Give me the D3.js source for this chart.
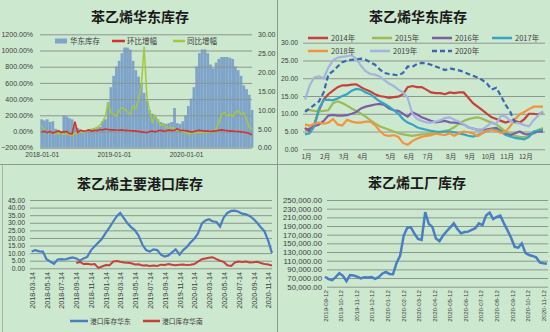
<!DOCTYPE html>
<html><head><meta charset="utf-8">
<script src="https://cdn.jsdelivr.net/npm/d3@7"></script>
<style>
html,body{margin:0;padding:0;background:#cce8cf;}
svg{display:block;}
</style></head><body>
<svg id="c" width="550" height="332"></svg>
<script>
// ---------------- DATA ----------------
// Panel 1: 苯乙烯华东库存 (biweekly from start date)
const p1Start = "2017-12-25";
const p1Stock = [7.5,7.2,7.5,6.8,7,5,4.5,4.3,8.5,8.3,7.8,7.5,5.5,5.2,4.8,4.5,4.2,4.5,4.8,5,5.2,5.5,7,7.5,12,16,19,21.5,23,25,26.5,26.5,26,23,20.5,18.8,17,14.5,12.5,10,9,8.5,7.5,6.8,6.5,6.3,6.5,6.8,10.5,6.5,6.3,7,8.5,11,13,16,21.5,25,26,26,25,22,21,22.5,23.5,24,24,24,23.8,23.5,21.5,20.5,19,16.5,15.5,14,10];
const p1MoM = [-10,5,-15,0,-20,-5,10,-10,-5,0,-25,-30,120,-10,15,5,10,20,5,15,10,25,20,30,25,20,22,18,15,20,12,15,10,8,5,0,-5,-10,-15,0,5,-5,10,15,5,10,20,10,15,35,10,15,10,5,-5,0,10,15,10,5,5,0,5,10,15,20,15,10,5,5,0,0,-5,-10,-15,-25,-40];
const p1YoY = [70,8,-12,-4,-20,-33,-25,-20,-33,-25,-40,-53,-20,-12,-4,-12,4,20,29,37,49,78,118,190,355,232,212,190,265,294,273,240,212,314,282,396,560,1050,437,253,118,200,130,78,86,49,37,49,37,16,4,-4,-12,-33,-25,-20,-12,-15,-12,-10,-8,-8,0,20,110,212,232,190,212,184,240,253,212,232,150,49,29];
const p1XTicks = ["2018-01-01","2019-01-01","2020-01-01"];
const p1LeftTicks = [-200,0,200,400,600,800,1000,1200];
const p1RightTicks = [0,5,10,15,20,25,30];
const p1Legend = ["华东库存","环比增幅","同比增幅"];

// Panel 2: 苯乙烯华东库存 by year (weekly index)
const p2Names = ["2014年","2015年","2016年","2017年","2018年","2019年","2020年"];
const s2014 = [6,5,7,11,14,15.5,16.5,17.5,18,18,18.2,18.3,17.5,16.8,16.3,15.5,15,14.8,14.5,14.7,14.8,15.5,17.5,17.8,17.5,17.5,16.8,16,15.8,15.8,15.5,16,15.8,16,16,14.5,13,12,11,10,9,8.5,8,7.5,8,8,7.5,8.5,10,10,9.8,10.5];
const s2015 = [11,11,10.8,10.7,10.8,11,13,13.5,13,12.3,11.5,10.8,10,9.2,8.2,7.3,6.5,6,5.5,5,4.5,4.2,4,3.8,4,4.2,4.3,4.5,4.8,5,5.2,5.5,6.2,7.2,8,8.5,8.8,9,8.6,8,7.5,7,6,5,4.2,3.8,3.5,3.4,3.8,4.5,5.5,6];
const s2016 = [5.5,5.8,6.5,7,8,9.5,9.7,9.5,9.5,9.6,10,10.5,11.5,12,12.3,12.6,12.8,12.5,11.5,11,10.8,10,9.2,10.4,9.8,9,8.5,8,7.6,7.8,8,7.6,7.5,7.4,7,6.2,5.8,5.5,5.5,5.6,5.8,6,5.2,4.3,4,4.5,5,4.3,4.2,4.6,5,5];
const s2017 = [4.2,4.5,6.5,11.5,13.8,14,13.8,14.3,15,15.5,16.5,17,16.8,16,15.5,14.5,13.5,12.8,12,11,10,8.5,7.5,7,6.2,5.8,5.5,5.2,5,4.8,5,5,4.8,4.5,4.2,3.8,3.6,4,4.5,5.2,5.6,5.5,5,4,3.6,3.2,3,2.8,3.5,5,5.3,5.5];
const s2018 = [7,6.6,7.2,7.5,7.2,7.5,8.5,7,6.7,8.3,7.8,7.5,7.5,7.8,7.8,6.8,5.2,4,3.8,4,3.5,1.8,1.3,2.3,3,3.5,3.8,4,4.4,4.2,4,4.5,3.8,4.5,5,4.8,4.5,3.7,4.5,5.3,5.5,5.2,4.6,5,6.5,8.5,9.8,10.5,11.3,12,12,12];
const s2019 = [14,18,20.2,20.5,20,23,25,25.8,26,26.2,26.5,25.5,23.5,22,21.2,21,20.5,19.5,18.5,17.8,16.8,16,14.5,10,8.6,8,7.6,7.5,7.8,8.2,8.8,9,8.3,7.8,7,6.2,5.8,5.5,5.6,6.5,7.5,7.2,9.5,9.2,8,7.5,7.3,6.8,6.5,8.2,9.5,10.8];
const s2020 = [10.5,11.5,12.5,13.5,16,21,22,23.3,24.5,25,25.2,25.3,25.5,25.2,24.5,23.8,22.5,21.5,21.2,21,20.8,21.5,23.3,23.2,24,24.3,24.2,23.8,23.3,22.8,22.3,22.8,22.5,22.2,21.8,21.2,20.7,20.2,19.5,18.5,16.8,17.3,15,12.5,10.5,7.5];
const p2MonthLabels = ["1月","2月","3月","4月","5月","6月","7月","8月","9月","10月","11月","12月"];
const p2MonthIdx = [0,4,8,12,18,22,26,31,35,39,43,47];
const p2YTicks = [0,5,10,15,20,25,30];

// Panel 3: 苯乙烯主要港口库存 (half-monthly)
const p3Start = "2018-03-14";
const p3East = [11,12,11.2,11,6,4.5,3,5.8,6,5.8,6.5,7.2,6.5,5,6.5,7.5,12,14.5,17,19.5,23.5,27,31,34.5,36.5,33,29.5,27,25,21.5,15.5,12,11,12.5,12,9,7.8,8.5,10.5,12.5,9,12,14,17,19.5,23,29.5,31.5,32.3,31,30.5,27.5,33.5,36.5,37.8,38,37.3,36,35.5,34.5,32.5,30,27,24.5,18,10];
const p3SouthOffset = 12; // starts 2018-09-14
const p3South = [3.5,4.2,2.8,3,2.5,2.8,0.3,1.2,2.2,2,4.5,4.8,4.3,3.8,3.7,3.3,2.5,2.6,1.8,2,1.5,1.8,1.6,2.4,2.2,2.8,2.3,2,2.4,2.5,2.1,2.4,2.8,4.4,6,6.5,7,7.3,6,5,4.2,2,1.6,3.8,4.4,4.2,4.5,3.8,4,4.3,3.5,2.9,2.5,1.8];
const p3XTicks = ["2018-03-14","2018-05-14","2018-07-14","2018-09-14","2018-11-14","2019-01-14","2019-03-14","2019-05-14","2019-07-14","2019-09-14","2019-11-14","2020-01-14","2020-03-14","2020-05-14","2020-07-14","2020-09-14","2020-11-14"];
const p3YTicks = [0,5,10,15,20,25,30,35,40,45];
const p3Legend = ["港口库存华东","港口库存华南"];

// Panel 4: 苯乙烯工厂库存 (weekly)
const p4Start = "2019-09-12";
const p4Factory = [73000,67500,65000,72000,81000,75000,63000,77000,76000,73000,69000,72000,71000,72500,68000,72000,80000,84000,79500,79000,105000,122000,168000,186000,187000,172000,160000,158000,222000,195000,188000,161000,155000,168000,178000,187000,196000,183000,173000,176000,177000,181000,185000,196000,192000,214000,221000,206000,211000,214000,196000,180000,163000,142000,140000,150000,128000,123000,121000,118000,106000,104000,103000];
const p4XTicks = ["2019-09-12","2019-10-12","2019-11-12","2019-12-12","2020-01-12","2020-02-12","2020-03-12","2020-04-12","2020-05-12","2020-06-12","2020-07-12","2020-08-12","2020-09-12","2020-10-12","2020-11-12"];
const p4YTicks = [50000,70000,90000,110000,130000,150000,170000,190000,210000,230000,250000];

// ---------------- DRAW ----------------
const svg = d3.select("#c");
const GRID = "#8d968d", TXT = "#404040", SEP = "#8f998f";
const FONT = '"Liberation Sans", Arial, sans-serif';
const CJK = '"Noto Sans CJK SC", "Noto Sans CJK JP", sans-serif';
const parse = d3.timeParse("%Y-%m-%d");

// panel separators
svg.append("line").attr("x1",277.5).attr("x2",277.5).attr("y1",0).attr("y2",332).attr("stroke",SEP);
svg.append("line").attr("x1",0).attr("x2",550).attr("y1",164.5).attr("y2",164.5).attr("stroke",SEP);
svg.append("line").attr("x1",2.5).attr("x2",2.5).attr("y1",165).attr("y2",332).attr("stroke","#a9b5a9");

function title(txt, x, y){
  svg.append("text").attr("x",x).attr("y",y).attr("text-anchor","middle")
    .attr("font-family",CJK).attr("font-weight","bold").attr("font-size",14)
    .attr("fill","#1a1a1a").text(txt);
}
function gridAxis(scale, ticks, fmt, left, right, labelX, size){
  const g = svg.append("g").attr("transform",`translate(${left},0)`)
    .call(d3.axisLeft(scale).tickValues(ticks).tickFormat(fmt)
      .tickSize(-(right-left)).tickPadding(left-labelX));
  g.select(".domain").remove();
  g.selectAll("line").attr("stroke",GRID).attr("stroke-width",1);
  g.selectAll("text").attr("font-family",FONT).attr("font-size",size).attr("fill",TXT);
  return g;
}
function legendText(x,y,t,size){
  svg.append("text").attr("x",x).attr("y",y).attr("font-family",CJK)
    .attr("font-size",size).attr("fill",TXT).text(t);
}

// ===== Panel 1 =====
title("苯乙烯华东库存",140,21.5);
const x1 = d3.scaleTime().domain([parse("2018-01-01"),parse("2020-01-01")]).range([41.7,186]);
const yL1 = d3.scaleLinear().domain([-200,1200]).range([147.7,34.3]);
const yR1 = d3.scaleLinear().domain([0,30]).range([147.7,34.3]);
const d1 = p1Stock.map((v,i)=>d3.timeDay.offset(parse(p1Start),14*i));
svg.append("g").selectAll("rect").data(p1Stock).join("rect")
  .attr("x",(v,i)=>x1(d1[i]))
  .attr("width",(v,i)=>x1(d3.timeDay.offset(d1[i],14))-x1(d1[i]))
  .attr("y",v=>yR1(v)).attr("height",v=>yR1(0)-yR1(v))
  .attr("fill","#7fa4c9");
gridAxis(yL1,p1LeftTicks,v=>d3.format(".2f")(v)+"%",40,252,33,7);
const gR1 = svg.append("g").attr("transform","translate(252,0)")
  .call(d3.axisRight(yR1).tickValues(p1RightTicks).tickFormat(d3.format(".2f")).tickSize(0).tickPadding(6));
gR1.select(".domain").remove();
gR1.selectAll("text").attr("font-family",FONT).attr("font-size",7).attr("fill",TXT);
const gX1 = svg.append("g").attr("transform","translate(0,150)")
  .call(d3.axisBottom(x1).tickValues(p1XTicks.map(parse)).tickFormat(d3.timeFormat("%Y-%m-%d")).tickSize(0).tickPadding(2));
gX1.select(".domain").remove();
gX1.selectAll("text").attr("font-family",FONT).attr("font-size",6.6).attr("fill",TXT);
const ln1 = arr => d3.line().x((v,i)=>x1(d3.timeDay.offset(d1[i],7))).y(v=>yL1(v))(arr);
svg.append("path").attr("d",ln1(p1YoY)).attr("fill","none").attr("stroke","#a6c83c").attr("stroke-width",1.5);
svg.append("path").attr("d",ln1(p1MoM)).attr("fill","none").attr("stroke","#d2332c").attr("stroke-width",1.6);
// legend
svg.append("rect").attr("x",55).attr("y",38.5).attr("width",12).attr("height",5).attr("fill","#7fa4c9");
legendText(70,44,p1Legend[0],7.5);
svg.append("line").attr("x1",112).attr("x2",125).attr("y1",41).attr("y2",41).attr("stroke","#d2332c").attr("stroke-width",2.5);
legendText(127,44,p1Legend[1],7.5);
svg.append("line").attr("x1",173).attr("x2",185).attr("y1",41).attr("y2",41).attr("stroke","#a6c83c").attr("stroke-width",2.5);
legendText(187,44,p1Legend[2],7.5);

// ===== Panel 2 =====
title("苯乙烯华东库存",418,21.5);
const x2 = d3.scaleLinear().domain([0,51]).range([305,543]);
const y2 = d3.scaleLinear().domain([0,30]).range([149.3,42.7]);
gridAxis(y2,p2YTicks,d3.format(".2f"),303,545,298,6.8);
const gX2 = svg.append("g").attr("transform","translate(1,152)")
  .call(d3.axisBottom(x2).tickValues(p2MonthIdx).tickFormat((d,i)=>p2MonthLabels[i]).tickSize(0).tickPadding(2));
gX2.select(".domain").remove();
gX2.selectAll("text").attr("font-family",CJK).attr("font-size",6.5).attr("fill",TXT);
const p2Series = [s2014,s2015,s2016,s2017,s2018,s2019,s2020];
const p2Colors = ["#c8403a","#9bbb59","#7b5fa3","#33a6c6","#f5923e","#a3b5df","#3b66b2"];
const ln2 = d3.line().x((v,i)=>x2(i)).y(v=>y2(v));
p2Series.forEach((s,k)=>{
  svg.append("path").attr("d",ln2(s)).attr("fill","none").attr("stroke",p2Colors[k])
    .attr("stroke-width",2.2).attr("stroke-dasharray",k===6?"5,3":null);
});
const lgX = [308,372,432,492,308,370,432], lgY = [38,38,38,38,51,51,51];
p2Names.forEach((n,k)=>{
  svg.append("line").attr("x1",lgX[k]).attr("x2",lgX[k]+20).attr("y1",lgY[k]).attr("y2",lgY[k])
    .attr("stroke",p2Colors[k]).attr("stroke-width",2.5).attr("stroke-dasharray",k===6?"5,3":null);
  legendText(lgX[k]+23,lgY[k]+3,n,7.5);
});

// ===== Panel 3 =====
title("苯乙烯主要港口库存",140,189);
const x3 = d3.scaleTime().domain([parse("2018-03-14"),parse("2020-11-14")]).range([31.7,268.3]);
const y3 = d3.scaleLinear().domain([0,45]).range([268.3,200]);
gridAxis(y3,p3YTicks,d3.format(".2f"),30,272,25,6.8);
const d3dates = p3East.map((v,i)=>d3.timeDay.offset(d3.timeMonth.offset(parse(p3Start),Math.floor(i/2)),(i%2)*15));
const gX3 = svg.append("g").attr("transform","translate(0,272)")
  .call(d3.axisBottom(x3).tickValues(p3XTicks.map(parse)).tickFormat(d3.timeFormat("%Y-%m-%d")).tickSize(0));
gX3.select(".domain").remove();
gX3.selectAll("text").attr("font-family",FONT).attr("font-size",7.2).attr("fill",TXT)
  .attr("transform","rotate(-90)").attr("text-anchor","end").attr("x",0).attr("y",0).attr("dy","0.35em");
const ln3 = d3.line().x(d=>x3(d[0])).y(d=>y3(d[1]));
svg.append("path").attr("d",ln3(p3East.map((v,i)=>[d3dates[i],v]))).attr("fill","none").attr("stroke","#4a7ec2").attr("stroke-width",2.2);
svg.append("path").attr("d",ln3(p3South.map((v,i)=>[d3dates[i+p3SouthOffset],v]))).attr("fill","none").attr("stroke","#c8403a").attr("stroke-width",2);
svg.append("line").attr("x1",70).attr("x2",88).attr("y1",321).attr("y2",321).attr("stroke","#4a7ec2").attr("stroke-width",2.5);
legendText(90,323.5,p3Legend[0],6.8);
svg.append("line").attr("x1",143).attr("x2",160).attr("y1",321).attr("y2",321).attr("stroke","#c8403a").attr("stroke-width",2.5);
legendText(162,323.5,p3Legend[1],6.8);

// ===== Panel 4 =====
title("苯乙烯工厂库存",417,188);
const x4 = d3.scaleTime().domain([parse("2019-09-12"),parse("2020-11-12")]).range([325,543.3]);
const y4 = d3.scaleLinear().domain([50000,250000]).range([286.7,200]);
gridAxis(y4,p4YTicks,d3.format(",.2f"),327,548,322,7.8);
const gX4 = svg.append("g").attr("transform","translate(0,290)")
  .call(d3.axisBottom(x4).tickValues(p4XTicks.map(parse)).tickFormat(d3.timeFormat("%Y-%m-%d")).tickSize(0));
gX4.select(".domain").remove();
gX4.selectAll("text").attr("font-family",FONT).attr("font-size",6.2).attr("fill",TXT)
  .attr("transform","rotate(-90)").attr("text-anchor","end").attr("x",0).attr("y",0).attr("dy","0.35em");
const ln4 = d3.line().x((v,i)=>x4(d3.timeDay.offset(parse(p4Start),7*i))).y(v=>y4(v));
svg.append("path").attr("d",ln4(p4Factory)).attr("fill","none").attr("stroke","#4a7ec2").attr("stroke-width",2.5);
</script>
</body></html>
